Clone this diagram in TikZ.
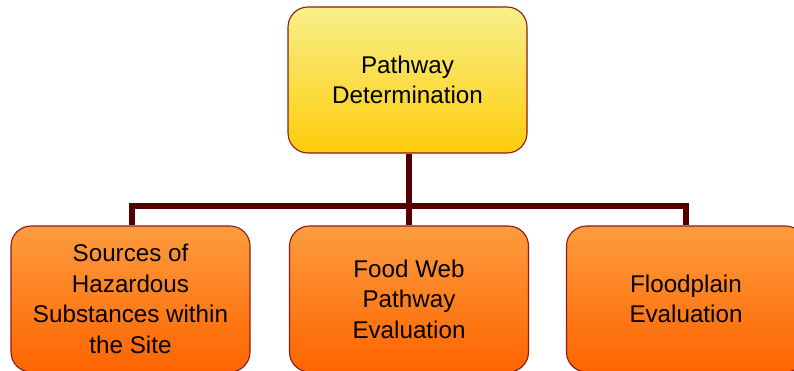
\documentclass[tikz,border=0pt]{standalone}
\usepackage{fontspec}
\setmainfont{Liberation Sans}
\definecolor{bordr}{HTML}{8B1A1A}
\definecolor{conn}{HTML}{550000}
\definecolor{ytop}{HTML}{F8F08A}
\definecolor{ybot}{HTML}{FDCC0A}
\definecolor{otop}{HTML}{FD9C3E}
\definecolor{obot}{HTML}{FF6400}
\tikzset{
  box/.style={draw=bordr, line width=1.1pt, rounded corners=20pt, inner sep=0pt,
    align=center, font=\fontsize{24.2}{30.5}\selectfont, text=black},
  topbox/.style={box, top color=ytop, bottom color=ybot, minimum width=239pt, minimum height=146pt},
  subbox/.style={box, top color=otop, bottom color=obot, minimum width=239pt, minimum height=146pt},
  link/.style={draw=conn, line width=6pt}
}
\begin{document}
\begin{tikzpicture}[x=1pt,y=-1pt]
\useasboundingbox (0,0) rectangle (794,370);
\node[topbox] (top) at (407.5,80) {Pathway\\Determination};
\node[subbox] (src) at (130.5,299) {Sources of\\Hazardous\\Substances within\\the Site};
\node[subbox] (food) at (409,299) {Food Web\\Pathway\\Evaluation};
\node[subbox] (flood) at (686,299) {Floodplain\\Evaluation};
\coordinate (hub) at (409,206);
\coordinate (hl) at (132,206);
\coordinate (hr) at (686,206);
\draw[link] (top.south -| hub) -- (hub);
\draw[link, line cap=rect] (hl) -- (hr);
\draw[link] (hl) -- (hl |- src.north);
\draw[link] (hub) -- (hub |- food.north);
\draw[link] (hr) -- (hr |- flood.north);
\end{tikzpicture}
\end{document}
